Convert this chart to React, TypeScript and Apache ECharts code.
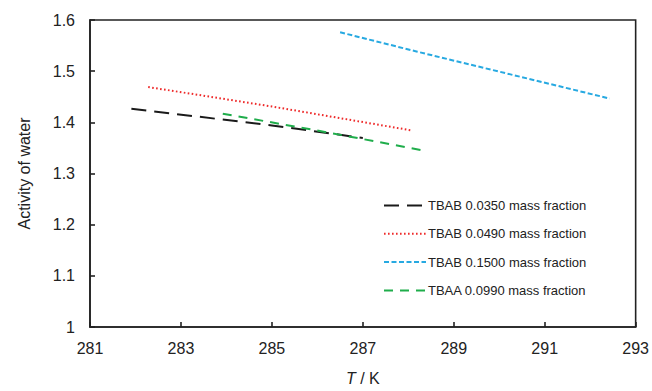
import React, { useEffect, useRef } from "react";
import * as echarts from "echarts";

const seriesNames = [
  "TBAB 0.0350 mass fraction",
  "TBAB 0.0490 mass fraction",
  "TBAB 0.1500 mass fraction",
  "TBAA 0.0990 mass fraction",
];
const tbab0350: [number, number][] = [[281.91, 1.4266], [285.0, 1.394], [287.0, 1.3695]];
const tbab0490: [number, number][] = [[282.28, 1.469], [285.0, 1.431], [288.06, 1.3844]];
const tbab1500: [number, number][] = [[286.5, 1.576], [288.2, 1.538], [292.43, 1.4465]];
const tbaa0990: [number, number][] = [[283.92, 1.4169], [286.0, 1.384], [288.31, 1.3454]];
const xTicks = [281, 293, 2];
const yTicks = [1, 1.6, 0.1];

export default function App() {
  const ref = useRef<HTMLDivElement>(null);
  useEffect(() => {
    const chart = echarts.init(ref.current!, undefined, { renderer: "svg" });
    const font = "Liberation Sans, Arial, Helvetica, sans-serif";
    const styles = [
      { color: "#1a1a1a", type: [15, 8] as any },
      { color: "#ee2a2a", type: [1.6, 2.4] as any },
      { color: "#27a9e1", type: [5, 2.5] as any },
      { color: "#1fad4b", type: [9, 7] as any },
    ];
    const data = [tbab0350, tbab0490, tbab1500, tbaa0990];
    chart.setOption({
      animation: false,
      grid: {
        left: 90,
        right: 15,
        top: 20,
        bottom: 63,
        show: true,
        borderColor: "#222",
        borderWidth: 1.6,
      },
      legend: {
        orient: "vertical",
        left: 378,
        top: 194,
        itemWidth: 42,
        itemHeight: 14,
        itemGap: 15.3,
        itemStyle: { opacity: 0 },
        textStyle: { fontFamily: font, fontSize: 13, color: "#222", padding: [0, 0, 0, -3] },
        data: seriesNames,
      },
      xAxis: {
        type: "value",
        min: xTicks[0],
        max: xTicks[1],
        interval: xTicks[2],
        name: "{i|T} / K",
        nameLocation: "middle",
        nameGap: 43,
        nameTextStyle: {
          fontFamily: font,
          fontSize: 16,
          color: "#222",
          rich: { i: { fontStyle: "italic", fontFamily: font, fontSize: 16, color: "#222" } },
        },
        axisLine: { lineStyle: { color: "#222", width: 1.6 } },
        axisTick: { inside: true, length: 5, lineStyle: { color: "#222", width: 1.6 } },
        axisLabel: { fontFamily: font, fontSize: 16, color: "#222", margin: 13 },
        splitLine: { show: false },
      },
      yAxis: {
        type: "value",
        min: yTicks[0],
        max: yTicks[1],
        interval: yTicks[2],
        name: "Activity of water",
        nameLocation: "middle",
        nameGap: 58,
        nameTextStyle: { fontFamily: font, fontSize: 16, color: "#222" },
        axisLine: { show: true, lineStyle: { color: "#222", width: 1.6 } },
        axisTick: { show: true, inside: true, length: 5, lineStyle: { color: "#222", width: 1.6 } },
        axisLabel: {
          fontFamily: font,
          fontSize: 16,
          color: "#222",
          margin: 15,
          formatter: (v: number) => String(Math.round(v * 10) / 10),
        },
        splitLine: { show: false },
      },
      series: data.map((d, i) => ({
        name: seriesNames[i],
        type: "line",
        data: d,
        symbol: "none",
        lineStyle: { color: styles[i].color, width: 2, type: styles[i].type },
        itemStyle: { color: styles[i].color },
      })),
    });
    return () => chart.dispose();
  }, []);
  return <div ref={ref} style={{ width: 652, height: 391, position: "absolute", left: 0, top: 0 }} />;
}
